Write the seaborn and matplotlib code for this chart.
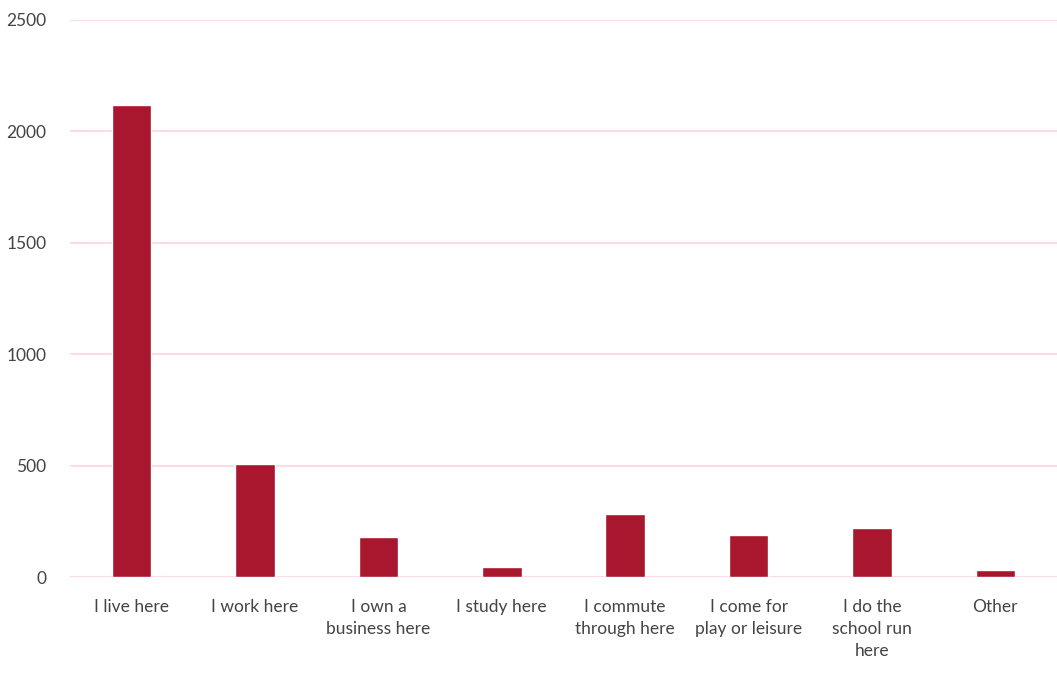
import matplotlib
matplotlib.use("Agg")
import matplotlib.pyplot as plt
import seaborn as sns
import pandas as pd

categories = ["I live here", "I work here", "I own a\nbusiness here", "I study here",
              "I commute\nthrough here", "I come for\nplay or leisure",
              "I do the\nschool run\nhere", "Other"]
values = [2118, 508, 178, 45, 283, 187, 218, 31]
yticks = [0, 500, 1000, 1500, 2000, 2500]

df = pd.DataFrame({"category": categories, "value": values})

sns.set_theme(style="white")
plt.rcParams["font.family"] = ["Lato", "DejaVu Sans"]

fig = plt.figure(figsize=(10.57, 6.88), dpi=100)
ax = fig.add_axes([70/1057, 1-577/688, 1-70/1057, (577-20)/688])

sns.barplot(data=df, x="category", y="value", color="#a8172e", saturation=1,
            width=0.32, ax=ax)

ax.set_ylim(0, 2500)
ax.set_xlim(-0.5, len(categories) - 0.5)
ax.set_yticks(yticks)
ax.set_yticklabels([str(t) for t in yticks])
ax.yaxis.grid(True, color="#fadde4", linewidth=1.5)
ax.set_axisbelow(True)
for s in ax.spines.values():
    s.set_visible(False)
ax.set_xlabel("")
ax.set_ylabel("")
ax.tick_params(axis="both", length=0, labelsize=12.5, colors="#444444")
ax.tick_params(axis="y", pad=17)
ax.tick_params(axis="x", pad=16)
for lbl in ax.get_xticklabels():
    lbl.set_linespacing(1.45)

fig.savefig("out.png", dpi=100)
